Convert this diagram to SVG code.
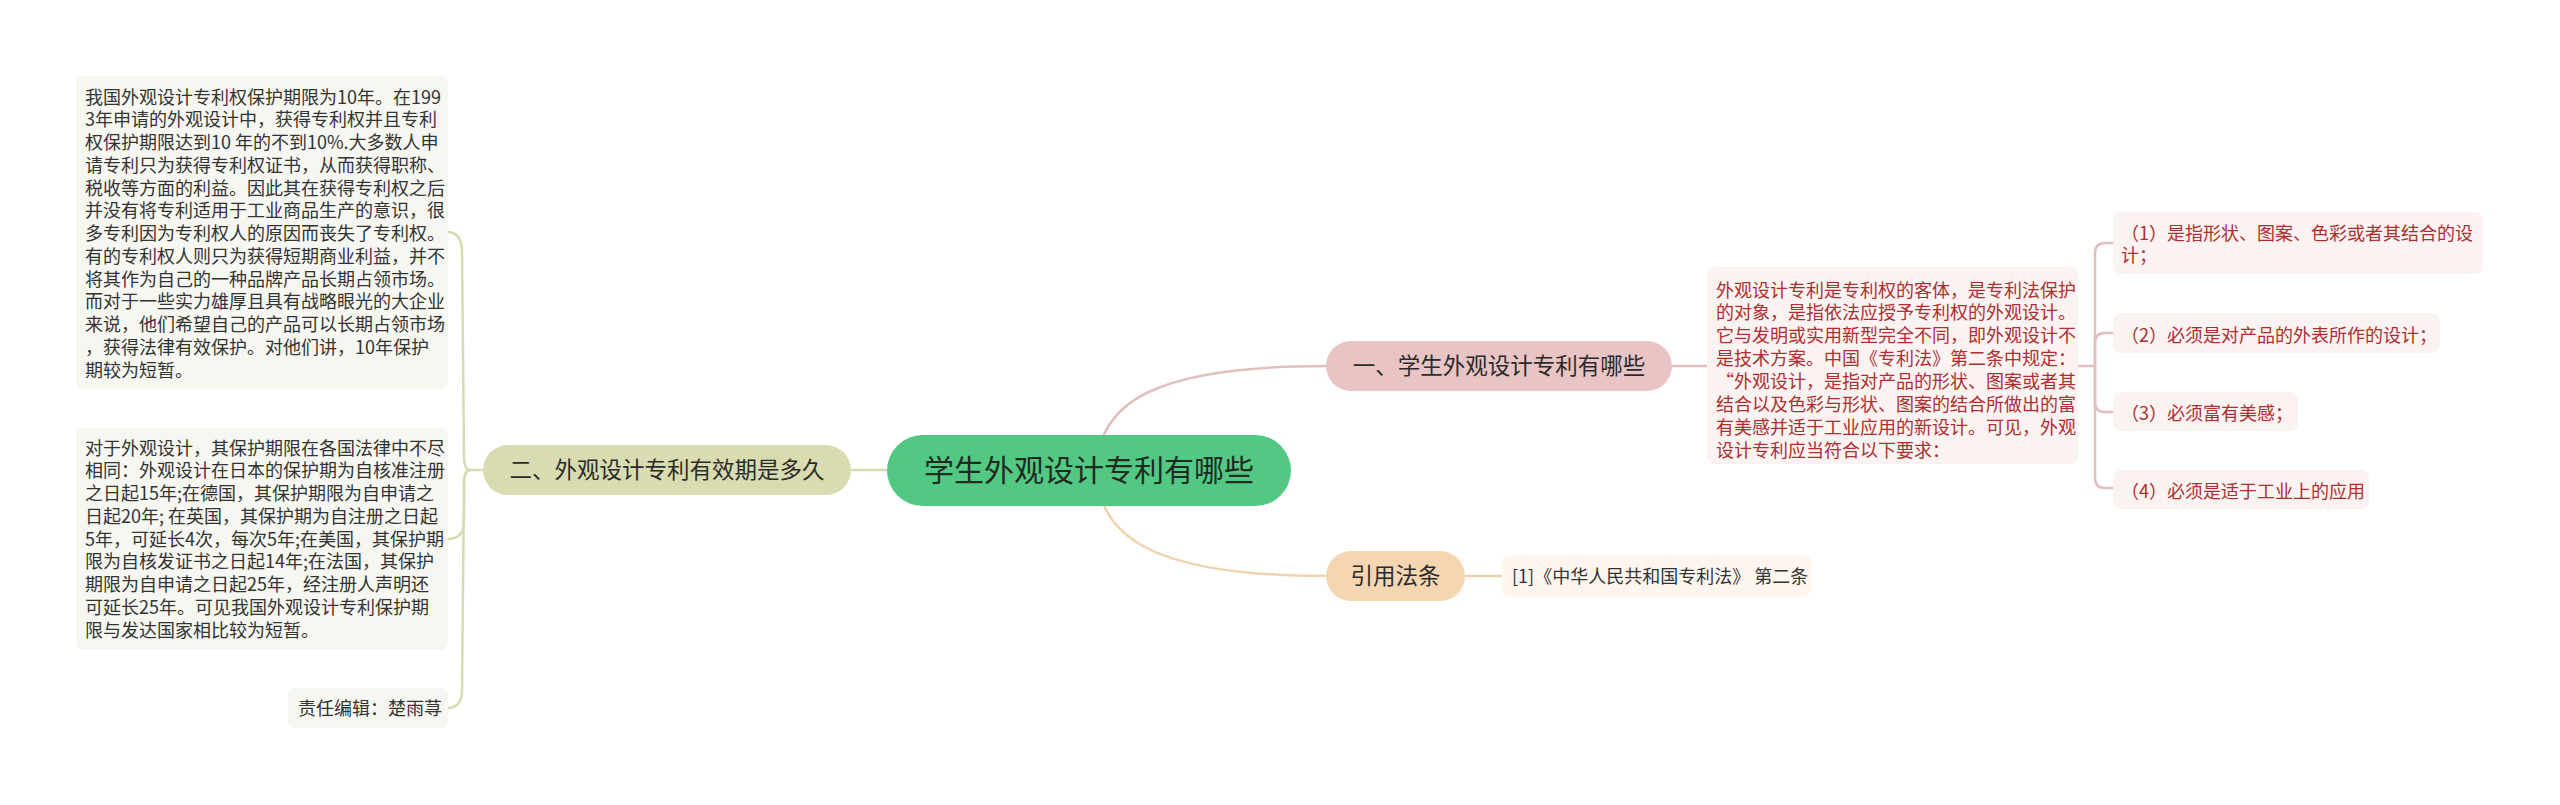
<svg xmlns="http://www.w3.org/2000/svg" width="2560" height="805" viewBox="0 0 2560 805">
<style>
text{font-family:"Noto Sans CJK SC","Noto Sans",sans-serif;}
.t18{font-size:18px;fill:#333333;}
.red{font-size:18px;fill:#ad2f2f;}
.node{font-size:22.5px;fill:#2b2b2b;text-anchor:middle;}
.root{font-size:30px;fill:#1f2a22;text-anchor:middle;}
.lg{fill:none;stroke:#d7dab2;stroke-width:2.5;}
.lp{fill:none;stroke:#e2bfbf;stroke-width:2.5;}
.lo{fill:none;stroke:#f0d2ae;stroke-width:2.5;}
.leafG{fill:#f6f7f0;}
.leafR{fill:#fbf2f2;}
</style>
<rect width="2560" height="805" fill="#ffffff"/>
<g id="connectors">
<line class="lg" x1="851" y1="470" x2="892" y2="470"/>
<path class="lp" d="M1097,470 C1097,400 1160,366 1326,366"/>
<path class="lo" d="M1097,470 C1097,540 1160,576 1326,576"/>
<line class="lp" x1="1672" y1="366" x2="1707" y2="366"/>
<line class="lo" x1="1465" y1="576" x2="1502" y2="576"/>
<path class="lg" d="M483,470 L470,470"/>
<path class="lg" d="M470,470 Q464,470 464,456 L462,252 Q462,232 447,232"/>
<path class="lg" d="M470,470 Q464,470 464,484 L464,522 Q464,539 447,539"/>
<path class="lg" d="M470,470 Q464,470 464,484 L462,690 Q462,708 447,708"/>
<path class="lp" d="M2078,366 L2095,366"/>
<path class="lp" d="M2095,366 L2095,253 Q2095,243 2105,243 L2113,243"/>
<path class="lp" d="M2095,366 L2095,343 Q2095,333 2105,333 L2113,333"/>
<path class="lp" d="M2095,366 L2095,402 Q2095,412 2105,412 L2113,412"/>
<path class="lp" d="M2095,366 L2095,478 Q2095,488 2105,488 L2113,488"/>
</g>
<g id="root">
<rect x="887" y="435" width="404" height="71" rx="35.5" fill="#53c883"/>
<text class="root" x="1089" y="481">学生外观设计专利有哪些</text>
</g>
<g id="branch2">
<rect x="483" y="445" width="368" height="50" rx="25" fill="#d9dcb1"/>
<text class="node" x="667" y="478">二、外观设计专利有效期是多久</text>
</g>
<g id="branch1">
<rect x="1326" y="341" width="346" height="50" rx="25" fill="#e8c4c4"/>
<text class="node" x="1499" y="374">一、学生外观设计专利有哪些</text>
</g>
<g id="branch3">
<rect x="1326" y="551" width="139" height="50" rx="25" fill="#f5d6b3"/>
<text class="node" x="1395.5" y="584">引用法条</text>
</g>
<g id="leftLeaf1">
<rect class="leafG" x="76" y="76" width="372" height="313" rx="8"/>
<text class="t18" x="85" y="103.5"><tspan x="85">我国外观设计专利权保护期限为10年。在199</tspan><tspan x="85" dy="22.75">3年申请的外观设计中，获得专利权并且专利</tspan><tspan x="85" dy="22.75">权保护期限达到10 年的不到10%.大多数人申</tspan><tspan x="85" dy="22.75">请专利只为获得专利权证书，从而获得职称、</tspan><tspan x="85" dy="22.75">税收等方面的利益。因此其在获得专利权之后</tspan><tspan x="85" dy="22.75">并没有将专利适用于工业商品生产的意识，很</tspan><tspan x="85" dy="22.75">多专利因为专利权人的原因而丧失了专利权。</tspan><tspan x="85" dy="22.75">有的专利权人则只为获得短期商业利益，并不</tspan><tspan x="85" dy="22.75">将其作为自己的一种品牌产品长期占领市场。</tspan><tspan x="85" dy="22.75">而对于一些实力雄厚且具有战略眼光的大企业</tspan><tspan x="85" dy="22.75">来说，他们希望自己的产品可以长期占领市场</tspan><tspan x="85" dy="22.75">，获得法律有效保护。对他们讲，10年保护</tspan><tspan x="85" dy="22.75">期较为短暂。</tspan></text>
</g>
<g id="leftLeaf2">
<rect class="leafG" x="76" y="428" width="372" height="222" rx="8"/>
<text class="t18" x="85" y="454.5"><tspan x="85">对于外观设计，其保护期限在各国法律中不尽</tspan><tspan x="85" dy="22.75">相同：外观设计在日本的保护期为自核准注册</tspan><tspan x="85" dy="22.75">之日起15年;在德国，其保护期限为自申请之</tspan><tspan x="85" dy="22.75">日起20年; 在英国，其保护期为自注册之日起</tspan><tspan x="85" dy="22.75">5年，可延长4次，每次5年;在美国，其保护期</tspan><tspan x="85" dy="22.75">限为自核发证书之日起14年;在法国，其保护</tspan><tspan x="85" dy="22.75">期限为自申请之日起25年，经注册人声明还</tspan><tspan x="85" dy="22.75">可延长25年。可见我国外观设计专利保护期</tspan><tspan x="85" dy="22.75">限与发达国家相比较为短暂。</tspan></text>
</g>
<g id="leftLeaf3">
<rect class="leafG" x="288" y="688" width="160" height="40" rx="8"/>
<text class="t18" x="298" y="714.5">责任编辑：楚雨荨</text>
</g>
<g id="rightText">
<rect class="leafR" x="1707" y="267" width="371" height="197" rx="8"/>
<text class="red" x="1716" y="296.5"><tspan x="1716">外观设计专利是专利权的客体，是专利法保护</tspan><tspan x="1716" dy="22.86">的对象，是指依法应授予专利权的外观设计。</tspan><tspan x="1716" dy="22.86">它与发明或实用新型完全不同，即外观设计不</tspan><tspan x="1716" dy="22.86">是技术方案。中国《专利法》第二条中规定：</tspan><tspan x="1716" dy="22.86">“外观设计，是指对产品的形状、图案或者其</tspan><tspan x="1716" dy="22.86">结合以及色彩与形状、图案的结合所做出的富</tspan><tspan x="1716" dy="22.86">有美感并适于工业应用的新设计。可见，外观</tspan><tspan x="1716" dy="22.86">设计专利应当符合以下要求：</tspan></text>
</g>
<g id="rightLeaf1">
<rect class="leafR" x="2113" y="212" width="370" height="62" rx="8"/>
<text class="red" x="2121" y="239.5"><tspan x="2121">（1）是指形状、图案、色彩或者其结合的设</tspan><tspan x="2121" dy="22">计；</tspan></text>
</g>
<g id="rightLeaf2">
<rect class="leafR" x="2113" y="313" width="327" height="40" rx="8"/>
<text class="red" x="2121" y="341.5">（2）必须是对产品的外表所作的设计；</text>
</g>
<g id="rightLeaf3">
<rect class="leafR" x="2113" y="392" width="185" height="39" rx="8"/>
<text class="red" x="2121" y="419.5">（3）必须富有美感；</text>
</g>
<g id="rightLeaf4">
<rect class="leafR" x="2113" y="470" width="256" height="39" rx="8"/>
<text class="red" x="2121" y="497.5">（4）必须是适于工业上的应用</text>
</g>
<g id="citation">
<rect x="1502" y="555" width="309" height="42" rx="8" fill="#fdf6ee"/>
<text class="t18" x="1512" y="582.5">[1]《中华人民共和国专利法》 第二条</text>
</g>
</svg>
